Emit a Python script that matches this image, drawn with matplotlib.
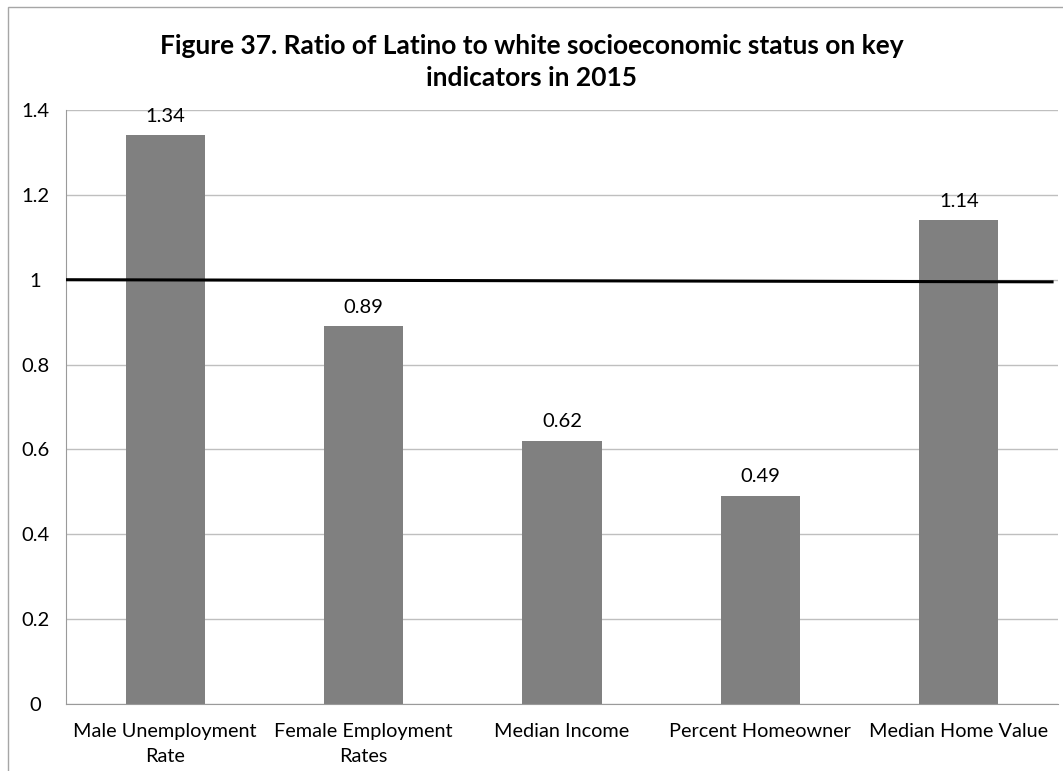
import matplotlib.pyplot as plt
from matplotlib.patches import Rectangle

plt.rcParams['font.family'] = ['Lato', 'DejaVu Sans']

categories = ["Male Unemployment\nRate", "Female Employment\nRates", "Median Income",
              "Percent Homeowner", "Median Home Value"]
ratios = [1.34, 0.89, 0.62, 0.49, 1.14]
value_labels = ["1.34", "0.89", "0.62", "0.49", "1.14"]
ref_line = [1.0, 0.995]  # parity line, drawn by hand in the original so it tilts a bit
yticks = [0, 0.2, 0.4, 0.6, 0.8, 1, 1.2, 1.4]
ytick_labels = ["0", "0.2", "0.4", "0.6", "0.8", "1", "1.2", "1.4"]

fig = plt.figure(figsize=(10.63, 7.71), dpi=100)
ax = fig.add_axes([66 / 1063, 1 - 704 / 771, (1058 - 66) / 1063, (704 - 110) / 771])

# outer chart border (cropped on the right and bottom)
fig.add_artist(Rectangle((8 / 1063, -0.1), 1.2, 1 - 7 / 771 + 0.1, transform=fig.transFigure,
                         fill=False, edgecolor="#a6a6a6", linewidth=1))

x = range(len(categories))
ax.bar(x, ratios, width=0.4, color="#808080", zorder=2)
for i, v in enumerate(ratios):
    ax.text(i, v + 0.025, value_labels[i], ha="center", va="bottom", fontsize=14.5)

ax.plot([-0.5, 4.47], ref_line, color="black", linewidth=2.2, zorder=3)

ax.set_xlim(-0.5, 4.5)
ax.set_ylim(0, 1.4)
ax.set_yticks(yticks)
ax.set_yticklabels(ytick_labels, fontsize=14.5)
ax.set_xticks(list(x))
ax.set_xticklabels(categories, fontsize=14.3, linespacing=1.55)
ax.tick_params(axis="x", length=0, pad=14)
ax.tick_params(axis="y", length=0, pad=22)
ax.yaxis.grid(True, color="#bfbfbf", linewidth=1, zorder=0)
ax.set_axisbelow(True)
for s in ["top", "right"]:
    ax.spines[s].set_visible(False)
ax.spines["left"].set_color("#9a9a9a")
ax.spines["bottom"].set_color("#9a9a9a")
for lbl in ax.get_yticklabels():
    lbl.set_horizontalalignment("center")

fig.text(0.5, 1 - 62 / 771, "Figure 37. Ratio of Latino to white socioeconomic status on key\nindicators in 2015",
         ha="center", va="center", fontsize=19, fontweight="bold", linespacing=1.45)

fig.savefig("out.png", dpi=100)
